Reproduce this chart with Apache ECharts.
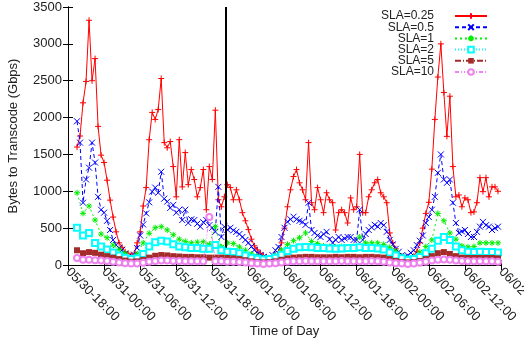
<!DOCTYPE html>
<html>
<head>
<meta charset="utf-8">
<script src="https://cdn.jsdelivr.net/npm/echarts@6/dist/echarts.min.js"></script>
<style>
  html, body { margin: 0; padding: 0; background: #fff; }
  #chart { width: 524px; height: 343px; }
</style>
</head>
<body>
<div id="chart"></div>
<script>
// x axis: hours since 05/30-18:00
const xTickLabels = [
  "05/30-18:00", "05/31-00:00", "05/31-06:00", "05/31-12:00", "05/31-18:00",
  "06/01-00:00", "06/01-06:00", "06/01-12:00", "06/01-18:00",
  "06/02-00:00", "06/02-06:00", "06/02-12:00", "06/02-18:00"
];
const yTicks = [0, 500, 1000, 1500, 2000, 2500, 3000, 3500];

// sample times (hours): red/blue every 30 min, the rest every hour
const halfHourTimes = Array.from({ length: 141 }, (_, i) => 1.5 + i * 0.5);
const hourTimes = Array.from({ length: 71 }, (_, i) => 1.5 + i);

const sla025 = [
  1600, 1750, 2200, 2490, 3320, 2500, 2800, 1880, 1490, 1390, 1150, 880,
  650, 450, 300, 240, 180, 160, 130, 150, 300, 450, 800, 1050,
  1700, 2070, 1975, 2110, 2530, 1660, 1590, 1675, 1335, 925, 1700, 1060,
  1525, 1090, 1295, 1160, 925, 1050, 1295, 750, 1335, 1160, 2100, 885,
  790, 925, 1090, 1050, 885, 1020, 885, 710, 600, 480, 350, 260,
  205, 160, 130, 110, 95, 90, 100, 180, 300, 500, 790, 1020,
  1200, 1295, 1115, 1020, 885, 1660, 845, 750, 1050, 885, 710, 980,
  885, 845, 475, 710, 750, 710, 570, 910, 750, 790, 1500, 710,
  710, 925, 1020, 1115, 1160, 980, 925, 845, 435, 300, 220, 150,
  120, 100, 80, 90, 120, 180, 300, 500, 700, 850, 1300, 1975,
  2550, 3000, 2340, 1745, 2290, 1335, 925, 950, 790, 910, 885, 710,
  720, 845, 1185, 995, 1185, 925, 1060, 1060, 1000
];
const sla05 = [
  1950, 1660, 845, 1160, 1320, 1660, 1390, 925, 750, 710, 600, 475,
  340, 270, 230, 205, 150, 110, 100, 140, 230, 400, 550, 700,
  850, 995, 1050, 980, 1265, 900, 860, 775, 815, 710, 750, 610,
  750, 570, 620, 610, 560, 520, 580, 610, 540, 505, 450, 1060,
  380, 520, 480, 505, 470, 450, 420, 380, 340, 300, 250, 205,
  160, 135, 110, 95, 100, 135, 200, 245, 380, 505, 585, 620,
  655, 620, 600, 585, 545, 845, 475, 435, 400, 380, 420, 450,
  350, 300, 340, 380, 340, 360, 380, 380, 340, 340, 750, 340,
  420, 475, 510, 545, 520, 570, 540, 450, 340, 280, 220, 180,
  130, 110, 130, 165, 200, 270, 330, 400, 570, 650, 750, 925,
  1250, 1500, 1160, 1115, 1160, 845, 570, 435, 455, 475, 420, 380,
  380, 450, 520, 585, 540, 520, 475, 500, 520
];
const sla1 = [
  980, 700, 800, 610, 420, 370,
  270, 210, 160, 100, 150, 300,
  430, 505, 520, 475, 410, 350,
  320, 300, 310, 315, 280, 520,
  245, 300, 290, 245, 200, 150,
  120, 95, 95, 130, 205, 280,
  330, 370, 435, 320, 290, 260,
  250, 245, 250, 245, 250, 380,
  300, 300, 300, 280, 240, 190,
  120, 95, 110, 175, 250, 340,
  700, 600, 435, 350, 260, 245,
  250, 300, 300, 300, 300
];
const sla2 = [
  505, 400, 435, 300, 250, 210,
  170, 130, 100, 80, 90, 150,
  250, 310, 330, 320, 280, 250,
  240, 230, 230, 220, 220, 270,
  200, 180, 175, 160, 130, 100,
  85, 75, 80, 100, 140, 190,
  220, 240, 245, 240, 230, 230,
  225, 220, 225, 230, 230, 240,
  230, 230, 225, 210, 170, 130,
  90, 70, 80, 110, 160, 220,
  330, 380, 340, 250, 200, 180,
  175, 180, 175, 175, 170
];
const sla5 = [
  200, 160, 175, 165, 140, 120,
  100, 80, 60, 45, 50, 70,
  100, 125, 135, 130, 120, 115,
  110, 110, 105, 105, 100, 100,
  100, 95, 90, 80, 65, 50,
  40, 35, 40, 50, 70, 90,
  100, 105, 110, 110, 105, 105,
  105, 110, 105, 110, 110, 105,
  110, 110, 105, 100, 80, 55,
  40, 35, 40, 55, 80, 120,
  160, 175, 150, 120, 100, 95,
  95, 95, 95, 95, 90
];
const sla10 = [
  95, 70, 70, 65, 60, 55,
  45, 35, 25, 20, 20, 30,
  45, 55, 60, 60, 55, 55,
  50, 50, 50, 50, 650, 50,
  50, 45, 45, 40, 35, 25,
  20, 15, 20, 25, 35, 45,
  50, 50, 55, 50, 50, 50,
  50, 50, 55, 50, 50, 50,
  50, 55, 50, 45, 35, 25,
  20, 15, 20, 30, 45, 60,
  70, 75, 70, 60, 55, 50,
  50, 50, 50, 50, 45
];

// thick black marker line: [hour, from value, to value]
const markerLine = [26.2, 230, 3500];

const FONT = "'Liberation Sans', Arial, sans-serif";
const pair = (times, vals) => vals.map((v, i) => [times[i], v]);

const PLUS = "path://M0,5L10,5M5,0L5,10";
const CROSS = "path://M0,0L10,10M10,0L0,10";
const STAR = "path://M0,5L10,5M5,0L5,10M1.5,1.5L8.5,8.5M8.5,1.5L1.5,8.5";

const seriesDefs = [
  { name: "SLA=0.25", times: halfHourTimes, vals: sla025, color: "#ff0000", dash: "solid", symbol: PLUS, fill: false },
  { name: "SLA=0.5", times: halfHourTimes, vals: sla05, color: "#0000ff", dash: [4, 3], symbol: CROSS, fill: false },
  { name: "SLA=1", times: hourTimes, vals: sla1, color: "#00ee00", dash: [2, 3], symbol: STAR, fill: false },
  { name: "SLA=2", times: hourTimes, vals: sla2, color: "#00ffff", dash: [1, 2], symbol: "emptyRect", fill: false },
  { name: "SLA=5", times: hourTimes, vals: sla5, color: "#a52a2a", dash: [6, 2, 1, 2], symbol: "rect", fill: true },
  { name: "SLA=10", times: hourTimes, vals: sla10, color: "#ee82ee", dash: [4, 2, 1, 2, 1, 2], symbol: "emptyCircle", fill: false }
];

const chart = echarts.init(document.getElementById("chart"), null, { renderer: "canvas" });

const axisLine = { show: true, lineStyle: { color: "#000", width: 1 } };
const tick = { show: true, inside: true, length: 5, lineStyle: { color: "#000" } };

const option = {
  animation: false,
  backgroundColor: "#fff",
  textStyle: { fontFamily: FONT },
  grid: { left: 68, right: 23, top: 7, bottom: 78, outerBoundsMode: "none", containLabel: false },
  xAxis: [
    {
      type: "value",
      min: 0,
      max: 72,
      interval: 6,
      position: "bottom",
      name: "Time of Day",
      nameLocation: "middle",
      nameGap: 60,
      nameMoveOverlap: false,
      nameTextStyle: { fontSize: 13, color: "#222", fontFamily: FONT },
      axisLine: axisLine,
      axisTick: tick,
      splitLine: { show: false },
      axisLabel: {
        rotate: -45,
        margin: 5,
        fontSize: 13,
        color: "#222",
        fontFamily: FONT,
        showMaxLabel: true,
        hideOverlap: false,
        formatter: v => xTickLabels[Math.round(v / 6)]
      }
    },
    {
      type: "value",
      min: 0,
      max: 72,
      interval: 6,
      position: "top",
      axisLine: axisLine,
      axisTick: tick,
      axisLabel: { show: false },
      splitLine: { show: false }
    }
  ],
  yAxis: [
    {
      type: "value",
      min: yTicks[0],
      max: yTicks[yTicks.length - 1],
      interval: 500,
      name: "Bytes to Transcode (Gbps)",
      nameLocation: "middle",
      nameGap: 48,
      nameMoveOverlap: false,
      nameTextStyle: { fontSize: 13, color: "#222", fontFamily: FONT },
      axisLine: axisLine,
      axisTick: tick,
      splitLine: { show: false },
      axisLabel: { fontSize: 13, color: "#222", margin: 6, fontFamily: FONT, formatter: v => String(v) }
    },
    {
      type: "value",
      min: yTicks[0],
      max: yTicks[yTicks.length - 1],
      interval: 500,
      position: "right",
      axisLine: axisLine,
      axisTick: tick,
      axisLabel: { show: false },
      splitLine: { show: false }
    }
  ],
  legend: seriesDefs.map((d, i) => ({
    data: [d.name],
    right: 36,
    top: 10 + i * 11.2,
    orient: "vertical",
    align: "right",
    padding: 0,
    itemWidth: 32,
    itemHeight: 7,
    selectedMode: false,
    textStyle: { fontSize: 12, color: "#222", fontFamily: FONT, padding: [0, 16, 0, 0] }
  })),
  series: seriesDefs.map((d, i) => {
    const s = {
      name: d.name,
      type: "line",
      data: pair(d.times, d.vals),
      symbol: d.symbol,
      symbolSize: 6,
      showSymbol: true,
      z: 2 + i,
      lineStyle: { color: d.color, width: 1, type: d.dash },
      itemStyle: {
        color: d.color,
        borderColor: d.color,
        borderWidth: d.fill ? 0 : 1
      },
      emphasis: { disabled: true }
    };
    if (i === seriesDefs.length - 1) {
      s.markLine = {
        silent: true,
        symbol: "none",
        label: { show: false },
        lineStyle: { color: "#000", width: 2, type: "solid" },
        data: [[
          { coord: [markerLine[0], markerLine[1]] },
          { coord: [markerLine[0], markerLine[2]] }
        ]]
      };
    }
    return s;
  })
};

chart.setOption(option);
</script>
</body>
</html>
